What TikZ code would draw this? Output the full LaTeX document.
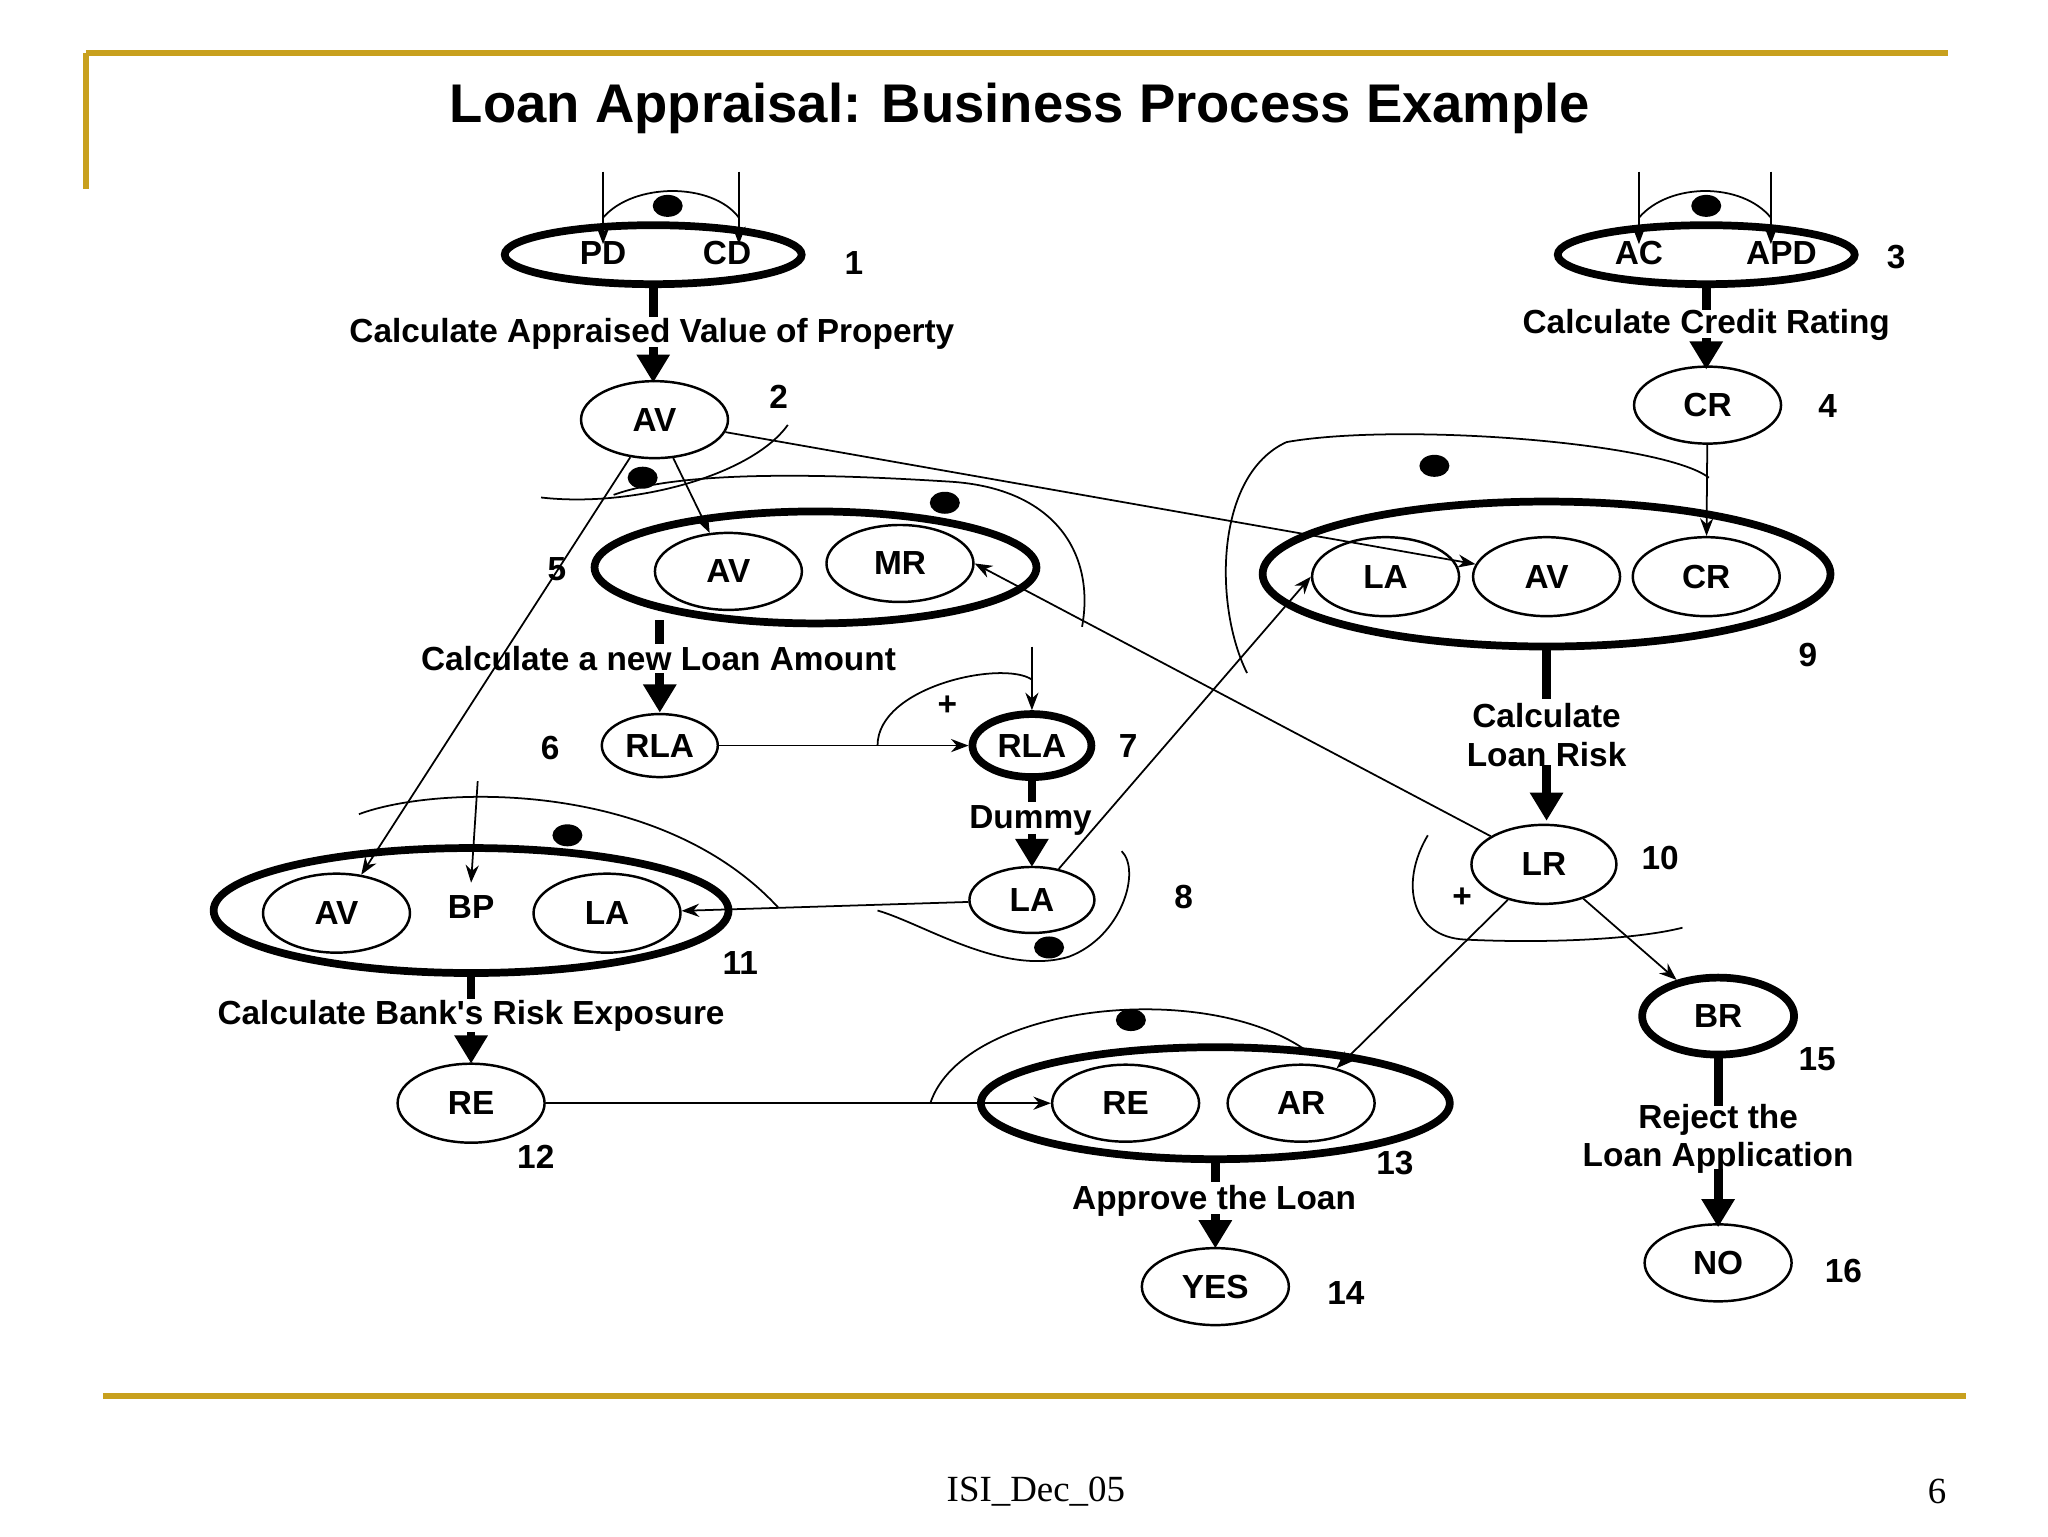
\documentclass[tikz,border=0pt]{standalone}
\usepackage{fontspec}
\setmainfont{Liberation Serif}
\newfontfamily\sansf{Liberation Sans}
\usetikzlibrary{shapes.geometric,arrows.meta}
\definecolor{gold}{RGB}{200,160,30}
\begin{document}
\begin{tikzpicture}[x=0.0132cm,y=-0.0132cm,
  lab/.style={font=\sansf\bfseries\fontsize{9.5}{11}\selectfont,align=center},
  num/.style={font=\sansf\bfseries\fontsize{9.5}{11}\selectfont},
  el/.style={draw,ellipse,line width=0.7pt,inner sep=0,minimum width=1.47cm,minimum height=0.77cm,font=\sansf\bfseries\fontsize{9.5}{11}\selectfont},
  big/.style={draw,ellipse,line width=2.2pt,inner sep=0},
  bar/.style={line width=2.5pt},
  tarr/.style={line width=2.5pt,-{Triangle[length=8pt,width=9pt]}},
  conn/.style={line width=0.5pt,-{Stealth[length=5pt]}},
  arc/.style={line width=0.5pt},
  dot/.style={fill,ellipse,inner sep=0,minimum width=0.3cm,minimum height=0.22cm}]
\useasboundingbox (0,0) rectangle (1552,1164);
% frame
\draw[gold,line width=1.6pt] (65,40) -- (1476,40);
\draw[gold,line width=1.6pt] (65,40) -- (65,143);
\draw[gold,line width=1.6pt] (78,1058) -- (1490,1058);
\node (title) at (773,82) {\sansf\bfseries\fontsize{15.5}{18}\selectfont Loan Appraisal: Business Process Example};
\node (foot) at (785,1130) {\fontsize{10.5}{12}\selectfont ISI\_Dec\_05};
\node (page) at (1468,1130) {\fontsize{10.5}{12}\selectfont 6};

% node 1
\node[big,minimum width=2.97cm,minimum height=0.59cm] (n1) at (495,193) {};
\node[lab] (pd) at (457,192) {PD};
\node[lab] (cd) at (551,192) {CD};
\node[num] (l1) at (647,199) {1};
\coordinate (pdin) at (457,130); \coordinate (cdin) at (560,130);
\draw[conn] (pdin) -- (457,185);
\draw[conn] (cdin) -- (560,185);
\draw[arc] (457,165) .. controls (480,138) and (540,138) .. (560,165);
\node[dot] (d1) at (506,156) {};
\draw[bar] (495,218) -- (495,240);
\node[lab] (t1) at (494,253) {Calculate Appraised Value of Property};
\draw[tarr] (495,263) -- (495,290);
\node[el] (av2) at (496,318) {AV};
\node[num] (l2) at (590,301) {2};

% node 3
\node[big,minimum width=2.97cm,minimum height=0.59cm] (n3) at (1293,193) {};
\node[lab] (ac) at (1242,192) {AC};
\node[lab] (apd) at (1350,192) {APD};
\node[num] (l3) at (1437,195) {3};
\draw[conn] (1242,130) -- (1242,185);
\draw[conn] (1342,130) -- (1342,185);
\draw[arc] (1242,165) .. controls (1265,138) and (1320,138) .. (1342,165);
\node[dot] (d3) at (1293,156) {};
\draw[bar] (1293,216) -- (1293,235);
\node[lab] (t3) at (1293,246) {Calculate Credit Rating};
\draw[tarr] (1293,256) -- (1293,280);
\node[el] (cr4) at (1294,307) {CR};
\node[num] (l4) at (1385,308) {4};

% node 5
\node[big,minimum width=4.42cm,minimum height=1.12cm] (n5) at (618,430) {};
\node[el] (av5) at (552,433) {AV};
\node[el] (mr5) at (682,427) {MR};
\node[num] (l5) at (422,431) {5};
\draw[bar] (500,470) -- (500,488);
\node[lab] (t5) at (499,499) {Calculate a new Loan Amount};
\draw[tarr] (500,510) -- (500,540);
\node[el,minimum width=1.16cm,minimum height=0.63cm] (rla6) at (500,565) {RLA};
\node[num] (l6) at (417,567) {6};
\node[el,line width=2.2pt,minimum width=1.19cm,minimum height=0.63cm] (rla7) at (782,565) {RLA};
\node[num] (l7) at (855,565) {7};
\draw[conn] (rla6) -- (rla7);
\draw[conn] (782,490) -- (rla7.north);
\draw[arc] (665,565) .. controls (665,520) and (760,500) .. (782,515);
\node[lab] (plus7) at (718,535) {+};
\draw[bar] (782,590) -- (782,608);
\node[lab] (t7) at (781,622) {Dummy};
\draw[tarr] (782,632) -- (782,657);
\node[el,minimum width=1.25cm,minimum height=0.66cm] (la8) at (782,682) {LA};
\node[num] (l8) at (897,680) {8};

% node 9
\node[big,minimum width=5.68cm,minimum height=1.45cm] (n9) at (1172,435) {};
\node[el,minimum height=0.79cm] (la9) at (1050,437) {LA};
\node[el,minimum height=0.79cm] (av9) at (1172,437) {AV};
\node[el,minimum height=0.79cm] (cr9) at (1293,437) {CR};
\node[num] (l9) at (1370,496) {9};
\draw[bar] (1172,492) -- (1172,530);
\node[lab] (t9) at (1172,557) {Calculate\\Loan Risk};
\draw[tarr] (1172,580) -- (1172,622);
\node[el,minimum width=1.45cm,minimum height=0.79cm] (lr10) at (1170,655) {LR};
\node[num] (l10) at (1258,650) {10};

% node 11
\node[big,minimum width=5.15cm,minimum height=1.25cm] (n11) at (357,690) {};
\node[el,minimum height=0.79cm] (av11) at (255,692) {AV};
\node[lab] (bp11) at (357,687) {BP};
\node[el,minimum height=0.79cm] (la11) at (460,692) {LA};
\node[num] (l11) at (561,730) {11};
\draw[conn] (362,592) -- (bp11.north);
\draw[bar] (357,738) -- (357,757);
\node[lab] (t11) at (357,770) {Calculate Bank's Risk Exposure};
\draw[tarr] (357,782) -- (357,806);
\node[el,minimum height=0.79cm] (re12) at (357,836) {RE};
\node[num] (l12) at (406,877) {12};

% node 13
\node[big,minimum width=4.69cm,minimum height=1.12cm] (n13) at (921,836) {};
\node[el] (re13) at (853,836) {RE};
\node[el] (ar13) at (986,836) {AR};
\node[num] (l13) at (1057,881) {13};
\draw[bar] (921,878) -- (921,896);
\node[lab] (t13) at (920,910) {Approve the Loan};
\draw[tarr] (921,920) -- (921,946);
\node[el] (yes14) at (921,975) {YES};
\node[num] (l14) at (1020,980) {14};

% node 15
\node[el,line width=2.2pt,minimum width=1.52cm] (br15) at (1302,770) {BR};
\node[num] (l15) at (1377,803) {15};
\draw[bar] (1302,800) -- (1302,838);
\node[lab] (t15) at (1302,863) {Reject the\\Loan Application};
\draw[tarr] (1302,886) -- (1302,930);
\node[el] (no16) at (1302,957) {NO};
\node[num] (l16) at (1397,963) {16};

% connectors
\draw[conn] (av2) -- (av5);
\draw[conn] (av2) -- (av9);
\draw[conn] (av2) -- (av11);
\draw[conn] (cr4) -- (cr9);
\draw[conn] (lr10) -- (mr5.east);
\draw[conn] (la8) -- (la9.west);
\draw[conn] (la8) -- (la11);
\draw[conn] (lr10) -- (br15);
\draw[conn] (lr10) -- (ar13);
\draw[conn] (re12) -- (re13);

% and/or arcs
\draw[arc] (410,377) .. controls (480,385) and (570,360) .. (597,322);
\node[dot] (d2) at (487,362) {};
\draw[arc] (465,375) .. controls (520,355) and (640,360) .. (720,365) .. controls (800,370) and (830,420) .. (820,475);
\node[dot] (d5) at (716,381) {};
\draw[arc] (945,510) .. controls (920,460) and (920,360) .. (975,335) .. controls (1060,320) and (1260,335) .. (1295,362);
\node[dot] (d9) at (1087,353) {};
\draw[arc] (272,617) .. controls (330,595) and (500,590) .. (590,688);
\node[dot] (d11) at (430,633) {};
\draw[arc] (665,690) .. controls (700,700) and (760,740) .. (810,725) .. controls (850,710) and (865,660) .. (850,645);
\node[dot] (d8) at (795,718) {};
\draw[arc] (1082,633) .. controls (1060,670) and (1070,710) .. (1110,712) .. controls (1170,715) and (1240,712) .. (1275,703);
\node[lab] (plus10) at (1108,680) {+};
\draw[arc] (705,836) .. controls (730,760) and (920,740) .. (995,800);
\node[dot] (d13) at (857,773) {};
\end{tikzpicture}
\end{document}
